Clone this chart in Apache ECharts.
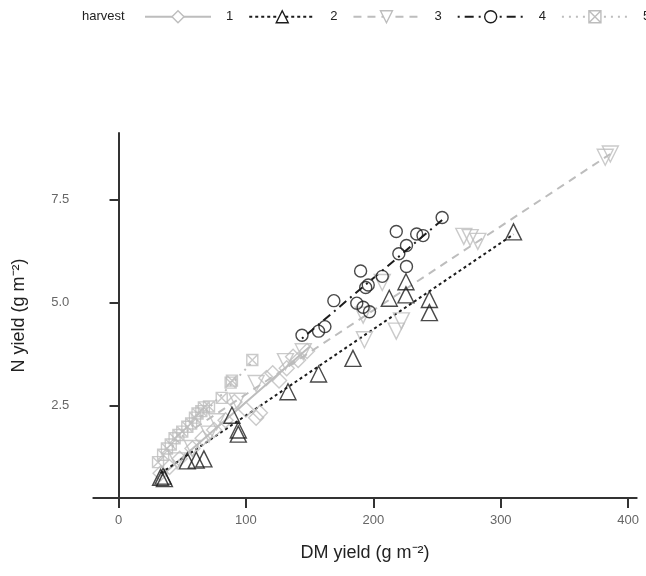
<!DOCTYPE html>
<html>
<head>
<meta charset="utf-8">
<script src="https://cdn.jsdelivr.net/npm/echarts@6/dist/echarts.min.js"></script>
<style>html,body{margin:0;padding:0;background:#fff;}#c{width:646px;height:576px;}</style>
</head>
<body>
<div id="c"></div>
<script>
// ---- data ----
var harvests = ['1', '2', '3', '4', '5'];
var xTicks = [0, 100, 200, 300, 400];
var yTicks = [2.5, 5.0, 7.5];

var harvest1 = [[33,0.85],[40,1.0],[48,1.2],[58,1.45],[66,1.7],[75,1.9],[84,2.14],[91,2.58],[100,2.4],[108,2.2],[111,2.32],[116,3.16],[121,3.28],[126,3.1],[132,3.4],[137,3.68],[141,3.6],[148,3.82]];
var harvest2 = [[33,0.75],[35,0.78],[36,0.72],[54,1.15],[61,1.17],[67,1.2],[89,2.26],[94,1.9],[94,1.8],[133,2.83],[157,3.26],[184,3.64],[212.5,5.1],[225.6,5.5],[225.6,5.18],[244,5.07],[244,4.75],[310,6.71]];
var harvest3 = [[46,1.15],[58,1.45],[71,1.8],[77,2.1],[93,2.6],[108,3.03],[131,3.56],[145,3.8],[193,4.09],[192,4.69],[207,5.48],[218,4.3],[222,4.55],[271,6.6],[276,6.57],[282,6.48],[382,8.52],[386,8.6]];
var harvest4 = [[144,4.2],[157,4.3],[162,4.41],[169,5.04],[187,4.98],[190,5.76],[192,4.88],[194,5.36],[196,5.42],[197,4.77],[207,5.63],[218,6.72],[220,6.18],[226,5.87],[226,6.38],[234,6.66],[239,6.62],[254,7.06]];
var harvest5 = [[31,1.12],[35,1.3],[38,1.45],[41,1.55],[44,1.7],[47,1.78],[50,1.86],[54,1.98],[57,2.06],[60,2.2],[62,2.3],[65,2.36],[67,2.45],[71,2.47],[81,2.68],[88,3.05],[89,3.1],[105,3.6]];

var fit1 = [[33,0.77],[150,3.92]];
var fit2 = [[33,0.85],[310,6.65]];
var fit3 = [[60,1.95],[386,8.6]];
var fit4 = [[144,4.12],[254,7.0]];
var fit5 = [[31,1.12],[105,3.55]];

// ---- styles ----
var GRAY = '#bdbdbd', BLACK = '#1c1c1c';
var boxX = 'path://M0,0L10,0L10,10L0,10ZM0,0L10,10M10,0L0,10';
var styles = [
  {color: GRAY,  symbol: 'diamond',  size: 15, rot: 0,   dash: 'solid'},
  {color: BLACK, symbol: 'triangle', size: 16, rot: 0,   dash: [3, 3]},
  {color: GRAY,  symbol: 'triangle', size: 16, rot: 180, dash: [8, 6]},
  {color: BLACK, symbol: 'circle',   size: 12, rot: 0,   dash: [2, 5, 9, 5]},
  {color: GRAY,  symbol: boxX,       size: 11, rot: 0,   dash: [2, 5]}
];
var points = [harvest1, harvest2, harvest3, harvest4, harvest5];
var fits = [fit1, fit2, fit3, fit4, fit5];

var series = [];
harvests.forEach(function (h, i) {
  var s = styles[i];
  series.push({
    name: h, type: 'line', data: fits[i],
    symbol: s.symbol, symbolSize: s.size, symbolRotate: s.rot, showSymbol: false,
    lineStyle: {color: s.color, width: 2, type: s.dash},
    itemStyle: {color: '#fff', borderColor: s.color, borderWidth: 1.4},
    z: 2, silent: true, animation: false
  });
});
harvests.forEach(function (h, i) {
  var s = styles[i];
  series.push({
    name: h, type: 'scatter', data: points[i],
    symbol: s.symbol, symbolSize: s.size, symbolRotate: s.rot,
    itemStyle: {color: 'transparent', borderColor: s.color, borderWidth: 1.4},
    z: 3, animation: false
  });
});

var legendData = harvests.map(function (h, i) {
  var s = styles[i];
  return {
    name: h,
    itemStyle: {color: '#fff', borderColor: s.color, borderWidth: 1.4},
    lineStyle: {color: s.color, width: 2, type: s.dash}
  };
});

var chart = echarts.init(document.getElementById('c'));
chart.setOption({
  animation: false,
  title: {
    text: 'harvest', left: 82, top: 10, padding: 0,
    textStyle: {fontFamily: 'Liberation Sans', fontSize: 13, fontWeight: 'normal', color: '#222'}
  },
  legend: {
    data: legendData, left: 144, top: 10, padding: 0, width: 900,
    itemWidth: 66, itemHeight: 15, itemGap: 15,
    textStyle: {fontFamily: 'Liberation Sans', fontSize: 13, color: '#222', padding: [0, 0, 0, 10]}
  },
  grid: {left: 93.3, right: 9.3, top: 133, bottom: 78},
  xAxis: {
    type: 'value', min: -19.8, max: 406.7,
    name: 'DM yield (g m\u207B\u00B2)', nameLocation: 'middle', nameGap: 46,
    nameTextStyle: {fontFamily: 'Liberation Sans', fontSize: 18, color: '#222'},
    axisLine: {show: true, lineStyle: {color: '#333', width: 2}},
    axisTick: {show: true, customValues: xTicks, length: 10, lineStyle: {color: '#333', width: 2}},
    axisLabel: {customValues: xTicks, margin: 16, fontFamily: 'Liberation Sans', fontSize: 13, color: '#666'},
    splitLine: {show: false}
  },
  yAxis: {
    type: 'value', min: 0.25, max: 9.11,
    name: 'N yield (g m\u207B\u00B2)', nameLocation: 'middle', nameGap: 65, nameRotate: 90,
    nameTextStyle: {fontFamily: 'Liberation Sans', fontSize: 18, color: '#222'},
    axisLine: {show: true, lineStyle: {color: '#333', width: 2}},
    axisTick: {show: true, customValues: yTicks, length: 9, lineStyle: {color: '#333', width: 2}},
    axisLabel: {customValues: yTicks, margin: 24, fontFamily: 'Liberation Sans', fontSize: 13, color: '#666',
      formatter: function (v) { return v.toFixed(1); }},
    splitLine: {show: false}
  },
  series: series
});
</script>
</body>
</html>
